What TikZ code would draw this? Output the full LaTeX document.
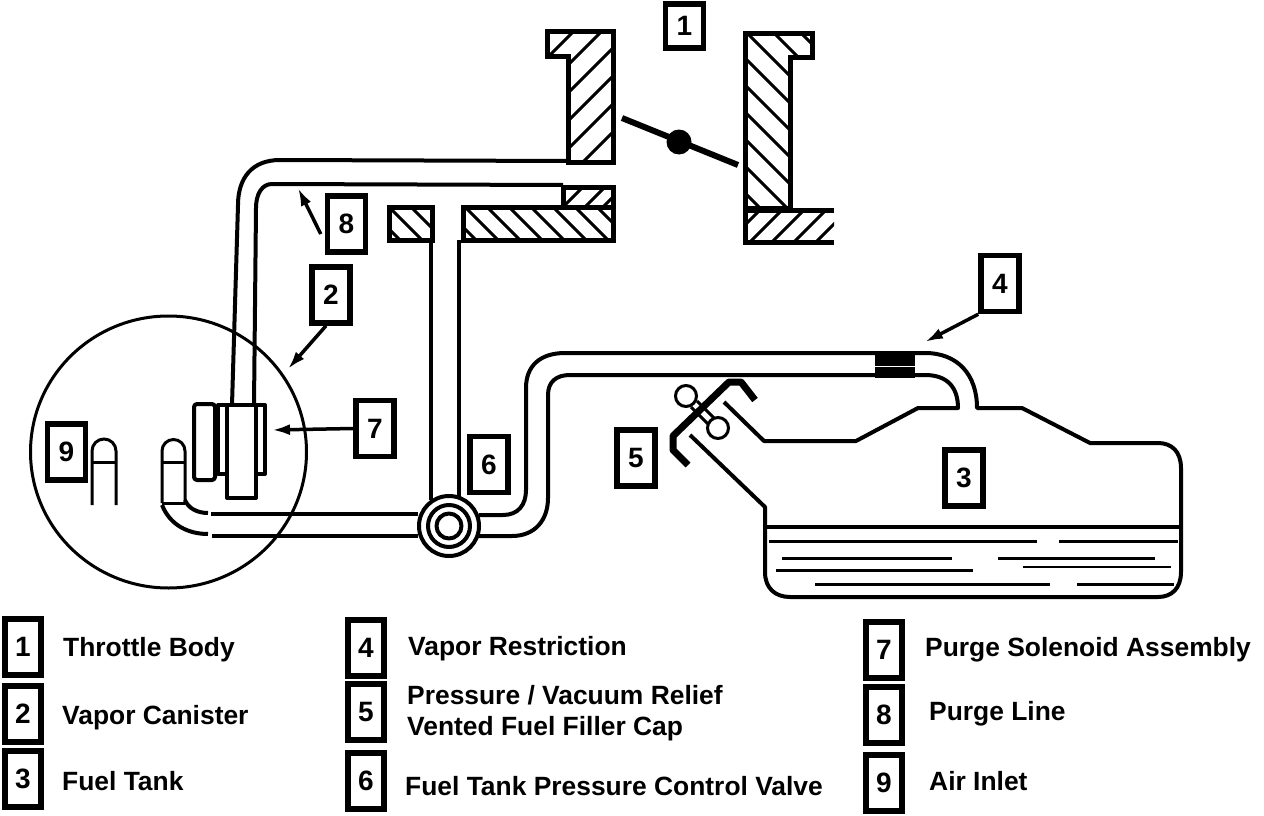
\documentclass[tikz,border=0pt]{standalone}
\usepackage{fontspec}
\setmainfont{Liberation Sans}
\usetikzlibrary{arrows.meta}
\tikzset{
  wall/.style={line width=5pt, line join=miter},
  hatchline/.style={line width=3pt},
  tube/.style={line width=4pt, line join=round},
  thinline/.style={line width=3pt},
  tagbox/.style={draw, line width=5.5pt, minimum width=38pt, minimum height=56pt, inner sep=0pt, fill=white, font=\fontsize{28}{28}\selectfont\bfseries},
  legtag/.style={tagbox, minimum width=36pt, minimum height=56pt},
  legtext/.style={anchor=west, inner sep=0pt, align=left, font=\fontsize{26.4}{31}\selectfont\bfseries},
  tagarrow/.style={-{Latex[length=18pt,width=11pt]}, line width=3.5pt},
}
\newcommand{\hatchup}[2]{%
  \begin{scope}
    \clip #1;
    \foreach \c in {#2} \draw[hatchline] (\c,0) -- (0,\c);
  \end{scope}
  \draw[wall] #1;}
\newcommand{\hatchdown}[2]{%
  \begin{scope}
    \clip #1;
    \foreach \c in {#2} \draw[hatchline] (\c,0) -- (\c+900,900);
  \end{scope}
  \draw[wall] #1;}
\begin{document}
\begin{tikzpicture}[x=1pt, y=-1pt]
\useasboundingbox[fill=white] (0,0) rectangle (1264,816);
% throttle body walls
\hatchup{(547,32) -- (613,32) -- (613,162) -- (568,162) -- (568,57) -- (547,57) -- cycle}{605,633,...,773}
\hatchdown{(745,34) -- (812,34) -- (812,58) -- (790,58) -- (790,208) -- (745,208) -- cycle}{525,552,...,768}
\begin{scope}
  \clip (745,208) rectangle (834,242);
  \foreach \c in {970,992,...,1080} \draw[hatchline] (\c,0) -- (0,\c);
\end{scope}
\draw[wall] (834,210) -- (745,210) -- (745,242) -- (834,242);
\hatchdown{(389,207) rectangle (432,240)}{160,182,...,226}
\hatchdown{(463,207) rectangle (613,240)}{236,258,...,412}
\hatchup{(563,187) rectangle (613,207)}{770,792,810}
% throttle plate
\draw[line width=6pt] (622,118) -- (738,165);
\fill (679,142) circle (12.5pt);
% purge line
\draw[tube] (568,161) -- (280,160) .. controls (252,160) and (238,178) .. (238,205) -- (232,405);
\draw[tube] (563,185) -- (272,184) .. controls (262,184) and (256,194) .. (256,208) -- (254,405);
% purge solenoid
\draw[tube, fill=white] (218,405) rectangle (265,474);
\draw[tube, fill=white] (227,405) rectangle (256,498);
\draw[tube, rounded corners=3pt] (194,404) rectangle (215,480);
% air inlet and canister stub
\draw[thinline] (92,505) -- (92,451) arc[start angle=180, end angle=0, radius=12pt] -- (116,505);
\draw[thinline] (93,462) -- (115,462);
\draw[thinline] (162,503) -- (162,451) arc[start angle=180, end angle=0, radius=11.5pt] -- (185,503);
\draw[thinline] (163,462) -- (184,462);
\draw[thinline] (162,503) -- (185,503);
% canister circle
\draw[thinline] (168.5,452) ellipse (138pt and 136pt);
% tubes to the valve
\draw[tube] (162,505) .. controls (170,525) and (188,534) .. (208,534);
\draw[tube] (212,536) -- (418,536);
\draw[tube] (185,500) .. controls (188,508) and (197,513) .. (208,513);
\draw[tube] (211,514) -- (418,514);
\draw[tube] (431,240) -- (431,500);
\draw[tube] (459,240) -- (459,500);
% pressure control valve
\draw[tube, fill=white] (449,526) circle (30pt);
\draw[tube] (449,526) circle (21pt);
\draw[tube] (449,526) circle (12.5pt);
% vapor line and fuel tank
\draw[tube] (479,515) -- (503,515) .. controls (518,515) and (526,505) .. (526,490) -- (526,388)
  .. controls (526,366) and (540,353) .. (565,353) -- (925,353)
  .. controls (958,353) and (977,375) .. (977,408) -- (1022,408) -- (1090,443) -- (1158,443)
  .. controls (1172,443) and (1181,452) .. (1181,468) -- (1181,572)
  .. controls (1181,588) and (1172,597) .. (1158,597) -- (790,597)
  .. controls (775,597) and (765,588) .. (765,572) -- (765,507) -- (690,435);
\draw[tube] (479,536) -- (512,536) .. controls (535,536) and (548,520) .. (548,498) -- (548,395)
  .. controls (548,382) and (556,375) .. (570,375) -- (925,375)
  .. controls (948,375) and (958,388) .. (958,408) -- (918,408) -- (856,441) -- (764,441) -- (724,402);
% vapor restriction
\fill (875,353) rectangle (915,366);
\fill (875,367) rectangle (915,378);
% liquid level
\draw[line width=4pt] (766,527) -- (1180,527);
\foreach \xa/\xb/\yy in {769/1037/541, 1059/1178/541, 782/952/558, 998/1155/558, 776/973/570, 815/1050/584, 1077/1174/584}
  \draw[line width=3pt] (\xa,\yy) -- (\xb,\yy);
\draw[line width=2pt] (1023,567) -- (1171,567);
% filler cap
\draw[thinline] (691,407) -- (710,426);
\draw[thinline] (697,401) -- (716,420);
\draw[thinline, fill=white] (686,396) circle (10.5pt);
\draw[thinline, fill=white] (718,428) circle (10.5pt);
\draw[line width=7pt, line join=round] (688,465) -- (673,450) -- (673,436) -- (729,382) -- (741,382) -- (755,400);
% part numbers on the drawing
\node[tagbox, minimum height=44pt] (tag1) at (684.5,26) {1};
\node[tagbox] (tag2) at (331,295) {2};
\node[tagbox] (tag3) at (964,478) {3};
\node[tagbox] (tag4) at (1000,283.5) {4};
\node[tagbox] (tag5) at (636,458) {5};
\node[tagbox] (tag6) at (489,464.5) {6};
\node[tagbox] (tag7) at (375,428.5) {7};
\node[tagbox] (tag8) at (346.5,224) {8};
\node[tagbox] (tag9) at (66.5,452) {9};
\coordinate (tip2) at (288,369);
\coordinate (tip4) at (925,342);
\coordinate (tip7) at (272,430);
\coordinate (tip8) at (298,188);
\draw[tagarrow] ([xshift=-5pt]tag2.south) -- (tip2);
\draw[tagarrow] (tag4.south west) -- (tip4);
\draw[tagarrow] (tag7.west) -- (tip7);
\draw[tagarrow] ([shift={(-4,10)}]tag8.west) -- (tip8);
% legend
\foreach \n/\xx/\yy in {1/23/647, 2/23/714, 3/23/779, 4/366/648, 5/366/712, 6/366/781, 7/884/650, 8/884/715, 9/884/783}
  \node[legtag] (leg\n) at (\xx,\yy) {\n};
\node[legtext] (text1) at (63,650) {Throttle Body};
\node[legtext] (text2) at (62,718) {Vapor Canister};
\node[legtext] (text3) at (62,781) {Fuel Tank};
\node[legtext] (text4) at (408,649) {Vapor Restriction};
\node[legtext] (text5) at (407,713) {Pressure / Vacuum Relief\\Vented Fuel Filler Cap};
\node[legtext] (text6) at (405,786) {Fuel Tank Pressure Control Valve};
\node[legtext] (text7) at (925,650) {Purge Solenoid Assembly};
\node[legtext] (text8) at (929,714) {Purge Line};
\node[legtext] (text9) at (929,781) {Air Inlet};
\end{tikzpicture}
\end{document}
